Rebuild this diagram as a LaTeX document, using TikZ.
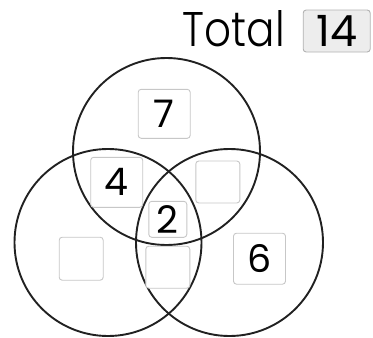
\documentclass[tikz,border=0pt]{standalone}
\usepackage{fontspec}
\setmainfont{Poppins}[UprightFont=* Light]
\newfontfamily\digitfont{Poppins}
\begin{document}
\begin{tikzpicture}[x=1pt,y=-1pt,
  ring/.style={draw=black!87,line width=1.9pt},
  cell/.style={draw=black!22,line width=0.9pt,rounded corners=3pt,fill=white,inner sep=0pt,anchor=center},
  digit/.style={font=\digitfont\fontsize{38}{38}\selectfont},
]
\useasboundingbox (0,0) rectangle (373,338);
% circles
\node[ring,circle,minimum size=187pt,inner sep=0pt] (ctop) at (166.5,151.5) {};
\node[ring,circle,minimum size=187pt,inner sep=0pt] (cleft) at (108,242.5) {};
\node[ring,circle,minimum size=187pt,inner sep=0pt] (cright) at (229.5,242.5) {};
% boxes
\node[cell,minimum width=52pt,minimum height=49pt] (b7) at (164.2,113.8) {};
\node[digit] (t7) at (b7) {7};
\node[cell,minimum width=52pt,minimum height=50pt] (b4) at (116.7,182.3) {};
\node[digit] (t4) at (b4) {4};
\node[cell,minimum width=44pt,minimum height=42pt] (bur) at (217.8,182) {};
\node[cell,minimum width=38pt,minimum height=36pt] (b2) at (167.8,219.3) {};
\node[digit] (t2) at (b2) {2};
\node[cell,minimum width=44pt,minimum height=43pt] (bl) at (81.2,258.7) {};
\node[cell,minimum width=44pt,minimum height=42pt] (bb) at (167.8,267.2) {};
\node[cell,minimum width=52pt,minimum height=51pt] (b6) at (259.5,258.7) {};
\node[digit] (t6) at (b6) {6};
% total
\node[anchor=base west,inner sep=0pt] (total) at (182.7,46.7) {\fontsize{48}{48}\selectfont\resizebox{102pt}{36pt}{Total}};
\node[cell,fill=black!7,draw=black!30,minimum width=67pt,minimum height=42pt] (b14) at (336.7,31) {};
\node[font=\digitfont\fontsize{43}{43}\selectfont] (t14) at (b14) {14};
\end{tikzpicture}
\end{document}
